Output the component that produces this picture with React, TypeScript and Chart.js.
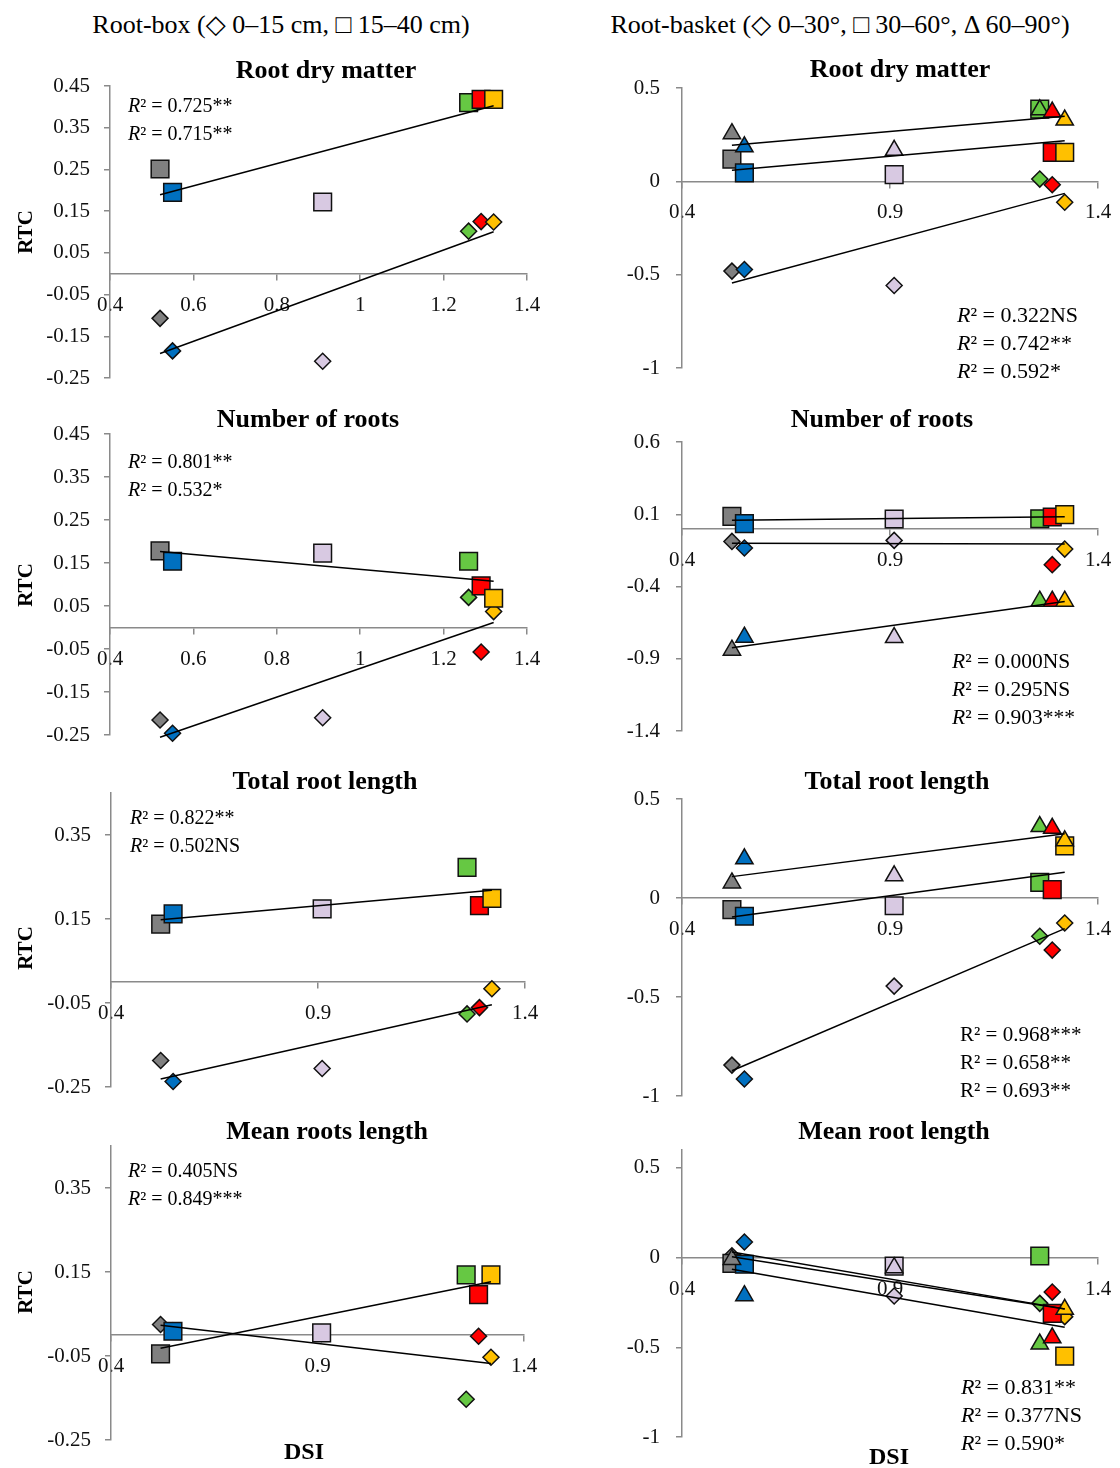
import React, { useEffect, useRef } from "react";
import { Chart, registerables } from "chart.js";

Chart.register(...registerables);

// ---------- data ----------
const DSI = [0.52, 0.55, 0.91, 1.26, 1.29, 1.32];
const GENOTYPE_COLORS = ["#808080", "#0070C0", "#D8C9E2", "#66C843", "#FF0000", "#FFC000"];

const X_TICKS_FINE = [0.4, 0.6, 0.8, 1, 1.2, 1.4];
const X_TICKS_COARSE = [0.4, 0.9, 1.4];
const Y_TICKS_BOX_A = [-0.25, -0.15, -0.05, 0.05, 0.15, 0.25, 0.35, 0.45];
const Y_TICKS_BOX_B = [-0.25, -0.05, 0.15, 0.35];
const Y_TICKS_BASKET_A = [-1, -0.5, 0, 0.5];
const Y_TICKS_BASKET_B = [-1.4, -0.9, -0.4, 0.1, 0.6];

// Root-box (diamond 0-15 cm, square 15-40 cm)
const BOX_DRY_DIAMOND = [-0.107, -0.185, -0.21, 0.102, 0.125, 0.124];
const BOX_DRY_SQUARE = [0.251, 0.195, 0.172, 0.41, 0.418, 0.418];
const BOX_NUM_DIAMOND = [-0.215, -0.246, -0.21, 0.07, -0.057, 0.037];
const BOX_NUM_SQUARE = [0.178, 0.154, 0.173, 0.154, 0.097, 0.068];
const BOX_TOT_DIAMOND = [-0.187, -0.237, -0.206, -0.076, -0.061, -0.016];
const BOX_TOT_SQUARE = [0.138, 0.162, 0.174, 0.273, 0.182, 0.199];
const BOX_MEAN_DIAMOND = [0.025, 0.01, 0.004, -0.153, -0.003, -0.053];
const BOX_MEAN_SQUARE = [-0.045, 0.009, 0.005, 0.143, 0.096, 0.143];

// Root-basket (diamond 0-30°, square 30-60°, triangle 60-90°)
const BASKET_DRY_DIAMOND = [-0.481, -0.472, -0.558, 0.012, -0.018, -0.112];
const BASKET_DRY_SQUARE = [0.119, 0.045, 0.036, 0.387, 0.155, 0.155];
const BASKET_DRY_TRIANGLE = [0.255, 0.185, 0.166, 0.383, 0.371, 0.328];
const BASKET_NUM_DIAMOND = [-0.088, -0.134, -0.081, 0.069, -0.249, -0.141];
const BASKET_NUM_SQUARE = [0.085, 0.035, 0.067, 0.069, 0.081, 0.097];
const BASKET_NUM_TRIANGLE = [-0.841, -0.751, -0.753, -0.502, -0.502, -0.502];
const BASKET_TOT_DIAMOND = [-0.844, -0.914, -0.445, -0.193, -0.263, -0.126];
const BASKET_TOT_SQUARE = [-0.059, -0.092, -0.039, 0.079, 0.042, 0.263];
const BASKET_TOT_TRIANGLE = [0.076, 0.198, 0.112, 0.361, 0.352, 0.289];
const BASKET_MEAN_DIAMOND = [0.01, 0.087, -0.214, -0.255, -0.192, -0.329];
const BASKET_MEAN_SQUARE = [-0.032, -0.037, -0.047, 0.009, -0.311, -0.549];
const BASKET_MEAN_TRIANGLE = [-0.01, -0.212, -0.056, -0.482, -0.447, -0.288];

const R2_BOX_DRY = ["0.725**", "0.715**"];
const R2_BOX_NUM = ["0.801**", "0.532*"];
const R2_BOX_TOT = ["0.822**", "0.502NS"];
const R2_BOX_MEAN = ["0.405NS", "0.849***"];
const R2_BASKET_DRY = ["0.322NS", "0.742**", "0.592*"];
const R2_BASKET_NUM = ["0.000NS", "0.295NS", "0.903***"];
const R2_BASKET_TOT = ["0.968***", "0.658**", "0.693**"];
const R2_BASKET_MEAN = ["0.831**", "0.377NS", "0.590*"];

const HEADER_BOX = "Root-box (\u25C7 0\u201315 cm, \u25A1 15\u201340 cm)";
const HEADER_BASKET = "Root-basket (\u25C7 0\u201330\u00B0, \u25A1 30\u201360\u00B0, \u0394 60\u201390\u00B0)";

// ---------- styling / layout ----------
const SERIF = "'Liberation Serif', 'DejaVu Serif', serif";
const AXIS_COLOR = "#8a8a8a";
const YW = 100;
const PAD_T = 30;
const PAD_B = 30;
const PAD_R = 30;

type Shape = "rect" | "rectRot" | "triangle";
type Series = { values: number[]; shape: Shape };
type PanelSpec = {
  title: string;
  titleX: number;
  titleY: number;
  area: [number, number, number, number];
  yMin: number;
  yMax: number;
  yTicks: number[];
  xTicks: number[];
  yLabelPad: number;
  series: Series[];
  r2: string[];
  r2X: number;
  r2Y: number;
  r2Size: number;
  italicR: boolean;
  rtcY?: number;
};

const PANELS: PanelSpec[] = [
  {
    title: "Root dry matter", titleX: 326, titleY: 70, area: [110, 86, 527, 378],
    yMin: -0.25, yMax: 0.45, yTicks: Y_TICKS_BOX_A, xTicks: X_TICKS_FINE, yLabelPad: 14,
    series: [{ values: BOX_DRY_SQUARE, shape: "rect" }, { values: BOX_DRY_DIAMOND, shape: "rectRot" }],
    r2: R2_BOX_DRY, r2X: 128, r2Y: 105, r2Size: 20, italicR: true, rtcY: 232,
  },
  {
    title: "Number of roots", titleX: 308, titleY: 419, area: [110, 434, 527, 735],
    yMin: -0.25, yMax: 0.45, yTicks: Y_TICKS_BOX_A, xTicks: X_TICKS_FINE, yLabelPad: 14,
    series: [{ values: BOX_NUM_SQUARE, shape: "rect" }, { values: BOX_NUM_DIAMOND, shape: "rectRot" }],
    r2: R2_BOX_NUM, r2X: 128, r2Y: 461, r2Size: 20, italicR: true, rtcY: 585,
  },
  {
    title: "Total root length", titleX: 325, titleY: 781, area: [111, 793, 525, 1087],
    yMin: -0.25, yMax: 0.45, yTicks: Y_TICKS_BOX_B, xTicks: X_TICKS_COARSE, yLabelPad: 14,
    series: [{ values: BOX_TOT_SQUARE, shape: "rect" }, { values: BOX_TOT_DIAMOND, shape: "rectRot" }],
    r2: R2_BOX_TOT, r2X: 130, r2Y: 817, r2Size: 20, italicR: true, rtcY: 948,
  },
  {
    title: "Mean roots length", titleX: 327, titleY: 1131, area: [111, 1146, 524, 1440],
    yMin: -0.25, yMax: 0.45, yTicks: Y_TICKS_BOX_B, xTicks: X_TICKS_COARSE, yLabelPad: 14,
    series: [{ values: BOX_MEAN_SQUARE, shape: "rect" }, { values: BOX_MEAN_DIAMOND, shape: "rectRot" }],
    r2: R2_BOX_MEAN, r2X: 128, r2Y: 1170, r2Size: 20, italicR: true, rtcY: 1292,
  },
  {
    title: "Root dry matter", titleX: 900, titleY: 69, area: [682, 88, 1098, 368],
    yMin: -1, yMax: 0.5, yTicks: Y_TICKS_BASKET_A, xTicks: X_TICKS_COARSE, yLabelPad: 16,
    series: [
      { values: BASKET_DRY_TRIANGLE, shape: "triangle" },
      { values: BASKET_DRY_SQUARE, shape: "rect" },
      { values: BASKET_DRY_DIAMOND, shape: "rectRot" },
    ],
    r2: R2_BASKET_DRY, r2X: 957, r2Y: 315, r2Size: 22, italicR: true,
  },
  {
    title: "Number of roots", titleX: 882, titleY: 419, area: [682, 442, 1098, 731],
    yMin: -1.4, yMax: 0.6, yTicks: Y_TICKS_BASKET_B, xTicks: X_TICKS_COARSE, yLabelPad: 16,
    series: [
      { values: BASKET_NUM_TRIANGLE, shape: "triangle" },
      { values: BASKET_NUM_SQUARE, shape: "rect" },
      { values: BASKET_NUM_DIAMOND, shape: "rectRot" },
    ],
    r2: R2_BASKET_NUM, r2X: 952, r2Y: 662, r2Size: 21.5, italicR: true,
  },
  {
    title: "Total root length", titleX: 897, titleY: 781, area: [682, 799, 1098, 1096],
    yMin: -1, yMax: 0.5, yTicks: Y_TICKS_BASKET_A, xTicks: X_TICKS_COARSE, yLabelPad: 16,
    series: [
      { values: BASKET_TOT_TRIANGLE, shape: "triangle" },
      { values: BASKET_TOT_SQUARE, shape: "rect" },
      { values: BASKET_TOT_DIAMOND, shape: "rectRot" },
    ],
    r2: R2_BASKET_TOT, r2X: 960, r2Y: 1034, r2Size: 21, italicR: false,
  },
  {
    title: "Mean root length", titleX: 894, titleY: 1131, area: [682, 1150, 1098, 1437],
    yMin: -1, yMax: 0.6, yTicks: Y_TICKS_BASKET_A, xTicks: X_TICKS_COARSE, yLabelPad: 16,
    series: [
      { values: BASKET_MEAN_TRIANGLE, shape: "triangle" },
      { values: BASKET_MEAN_SQUARE, shape: "rect" },
      { values: BASKET_MEAN_DIAMOND, shape: "rectRot" },
    ],
    r2: R2_BASKET_MEAN, r2X: 961, r2Y: 1387, r2Size: 22, italicR: true,
  },
];

const MARKER_RADIUS: Record<Shape, number> = { rect: 12.5, rectRot: 8, triangle: 10 };

function trendLine(xs: number[], ys: number[]) {
  const n = xs.length;
  const mx = xs.reduce((a, b) => a + b, 0) / n;
  const my = ys.reduce((a, b) => a + b, 0) / n;
  let sxy = 0;
  let sxx = 0;
  for (let i = 0; i < n; i++) {
    sxy += (xs[i] - mx) * (ys[i] - my);
    sxx += (xs[i] - mx) * (xs[i] - mx);
  }
  const slope = sxy / sxx;
  const icpt = my - slope * mx;
  const x0 = Math.min(...xs);
  const x1 = Math.max(...xs);
  return [
    { x: x0, y: icpt + slope * x0 },
    { x: x1, y: icpt + slope * x1 },
  ];
}

function PanelChart({ p }: { p: PanelSpec }) {
  const ref = useRef<HTMLCanvasElement | null>(null);
  const [l, t, r, b] = p.area;
  const w = r - l + YW + PAD_R;
  const h = b - t + PAD_T + PAD_B;

  useEffect(() => {
    const canvas = ref.current;
    if (!canvas) return;
    const datasets: any[] = [];
    p.series.forEach((s) => {
      datasets.push({
        data: trendLine(DSI, s.values),
        showLine: true,
        borderColor: "#000",
        borderWidth: 1.5,
        pointRadius: 0,
        fill: false,
        clip: false,
      });
    });
    p.series.forEach((s) => {
      datasets.push({
        data: DSI.map((x, i) => ({ x, y: s.values[i] })),
        showLine: false,
        pointStyle: s.shape,
        pointRadius: MARKER_RADIUS[s.shape],
        pointBackgroundColor: GENOTYPE_COLORS,
        pointBorderColor: "#111",
        pointBorderWidth: 1.5,
        clip: false,
      });
    });
    const tickFont = { family: "Liberation Serif", size: 21 };
    const chart = new Chart(canvas, {
      type: "scatter",
      data: { datasets },
      options: {
        responsive: false,
        animation: false,
        devicePixelRatio: 1,
        events: [],
        layout: { padding: { left: 0, right: PAD_R, top: PAD_T, bottom: PAD_B } },
        plugins: { legend: { display: false }, tooltip: { enabled: false }, title: { display: false } },
        scales: {
          x: {
            type: "linear",
            min: 0.4,
            max: 1.4,
            position: { y: 0 } as any,
            afterBuildTicks: (scale: any) => {
              scale.ticks = p.xTicks.map((v) => ({ value: v }));
            },
            afterFit: (scale: any) => {
              scale.height = 0;
            },
            grid: { display: true, drawOnChartArea: false, drawTicks: true, tickLength: 6, color: AXIS_COLOR, lineWidth: 1.5 },
            border: { display: true, color: AXIS_COLOR, width: 1.5 },
            ticks: { font: tickFont, color: "#111", padding: 13, maxRotation: 0, autoSkip: false, callback: (v: any) => String(v) },
          },
          y: {
            type: "linear",
            min: p.yMin,
            max: p.yMax,
            position: "left",
            afterBuildTicks: (scale: any) => {
              scale.ticks = p.yTicks.map((v) => ({ value: v }));
            },
            afterFit: (scale: any) => {
              scale.width = YW;
            },
            grid: { display: true, drawOnChartArea: false, drawTicks: true, tickLength: 6, color: AXIS_COLOR, lineWidth: 1.5 },
            border: { display: true, color: AXIS_COLOR, width: 1.5 },
            ticks: { font: tickFont, color: "#111", padding: p.yLabelPad, autoSkip: false, callback: (v: any) => String(v) },
          },
        },
      } as any,
    });
    return () => chart.destroy();
  }, []);

  return (
    <canvas
      ref={ref}
      width={w}
      height={h}
      style={{ position: "absolute", left: l - YW, top: t - PAD_T, width: w, height: h, display: "block" }}
    />
  );
}

function Centered({ x, y, children, style }: { x: number; y: number; children: any; style?: any }) {
  return (
    <div
      style={{
        position: "absolute",
        left: x,
        top: y,
        transform: "translate(-50%, -50%)",
        whiteSpace: "nowrap",
        lineHeight: 1,
        fontFamily: SERIF,
        color: "#000",
        ...style,
      }}
    >
      {children}
    </div>
  );
}

export default function App() {
  return (
    <div style={{ position: "absolute", left: 0, top: 0, width: 1120, height: 1468, background: "#fff", overflow: "hidden" }}>
      {PANELS.map((p, i) => (
        <PanelChart key={i} p={p} />
      ))}
      <Centered x={281} y={25} style={{ fontSize: 26 }}>{HEADER_BOX}</Centered>
      <Centered x={840} y={25} style={{ fontSize: 26 }}>{HEADER_BASKET}</Centered>
      {PANELS.map((p, i) => (
        <Centered key={"t" + i} x={p.titleX} y={p.titleY} style={{ fontSize: 26, fontWeight: "bold" }}>
          {p.title}
        </Centered>
      ))}
      {PANELS.map((p, i) =>
        p.rtcY !== undefined ? (
          <Centered key={"r" + i} x={25} y={p.rtcY} style={{ fontSize: 21, fontWeight: "bold", transform: "translate(-50%, -50%) rotate(-90deg)" }}>
            RTC
          </Centered>
        ) : null
      )}
      {PANELS.map((p, i) =>
        p.r2.map((txt, j) => (
          <div
            key={"q" + i + "-" + j}
            style={{
              position: "absolute",
              left: p.r2X,
              top: p.r2Y + j * 28,
              transform: "translateY(-50%)",
              whiteSpace: "nowrap",
              lineHeight: 1,
              fontFamily: SERIF,
              fontSize: p.r2Size,
              color: "#000",
            }}
          >
            <span style={{ fontStyle: p.italicR ? "italic" : "normal" }}>R</span>
            {"\u00B2 = " + txt}
          </div>
        ))
      )}
      <Centered x={304} y={1451} style={{ fontSize: 24, fontWeight: "bold" }}>DSI</Centered>
      <Centered x={889} y={1456} style={{ fontSize: 24, fontWeight: "bold" }}>DSI</Centered>
    </div>
  );
}
